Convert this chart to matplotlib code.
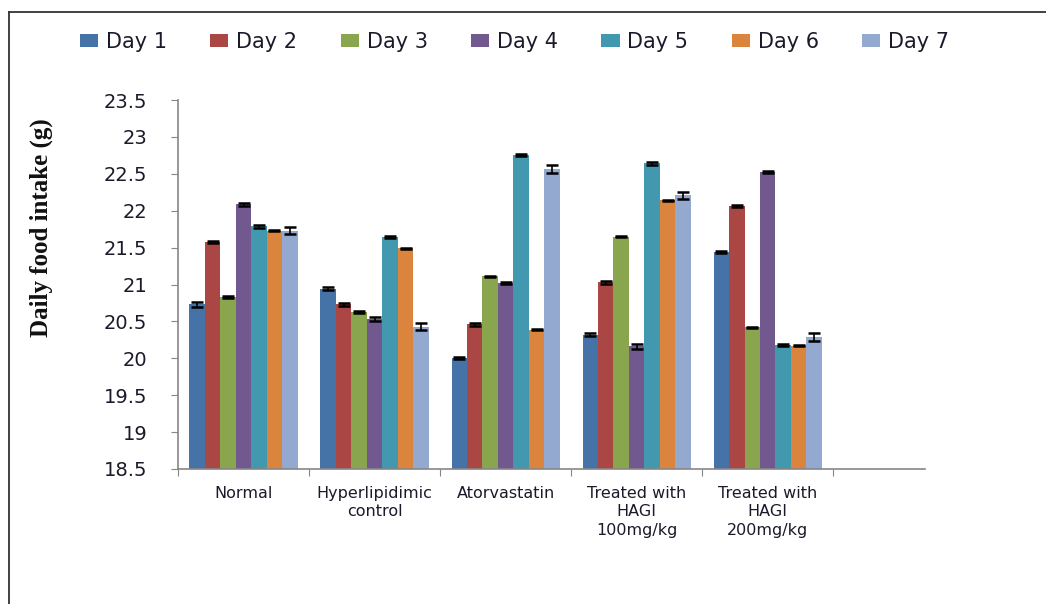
import matplotlib
matplotlib.use("Agg")
import matplotlib.pyplot as plt
import numpy as np
from matplotlib.lines import Line2D
from matplotlib.ticker import FormatStrFormatter, MultipleLocator

groups = ["Normal", "Hyperlipidimic\ncontrol", "Atorvastatin",
          "Treated with\nHAGI\n100mg/kg", "Treated with\nHAGI\n200mg/kg"]
days = ["Day 1", "Day 2", "Day 3", "Day 4", "Day 5", "Day 6", "Day 7"]

# mean daily intake per group, one list per day
day1 = [20.73, 20.94, 20.00, 20.32, 21.44]
day2 = [21.58, 20.73, 20.46, 21.03, 22.06]
day3 = [20.83, 20.63, 21.11, 21.65, 20.42]
day4 = [22.09, 20.53, 21.02, 20.16, 22.52]
day5 = [21.79, 21.64, 22.76, 22.64, 20.18]
day6 = [21.73, 21.49, 20.39, 22.14, 20.17]
day7 = [21.73, 20.43, 22.57, 22.21, 20.29]

# standard errors
err1 = [0.03, 0.02, 0.015, 0.02, 0.015]
err2 = [0.015, 0.025, 0.02, 0.02, 0.015]
err3 = [0.01, 0.01, 0.01, 0.01, 0.005]
err4 = [0.02, 0.025, 0.015, 0.03, 0.015]
err5 = [0.02, 0.015, 0.015, 0.015, 0.015]
err6 = [0.01, 0.01, 0.01, 0.005, 0.01]
err7 = [0.045, 0.045, 0.055, 0.05, 0.05]

values = [day1, day2, day3, day4, day5, day6, day7]
errors = [err1, err2, err3, err4, err5, err6, err7]
colors = ["#4572A7", "#AA4643", "#89A54E", "#71588F", "#4198AF", "#DB843D", "#93A9CF"]

y_min, y_max = 18.5, 23.5

fig = plt.figure(figsize=(10.46, 6.04), dpi=100)
ax = fig.add_axes([178 / 1046, 1 - 469 / 604, (925 - 178) / 1046, (469 - 100) / 604])

width = 0.118
x = np.arange(len(groups))
handles = []
for j, (vals, errs, c) in enumerate(zip(values, errors, colors)):
    vals = np.asarray(vals)
    pos = x + (j - 3) * width
    b = ax.bar(pos, vals - y_min, bottom=y_min, width=width, color=c,
               edgecolor="none", label=days[j], zorder=2)
    ax.errorbar(pos, vals, yerr=errs, fmt="none", ecolor="black",
                elinewidth=1.2, capsize=4.5, capthick=1.8, zorder=3)
    handles.append(b)

ax.set_ylim(y_min, y_max)
ax.set_xlim(-0.5, 5.2)
ax.yaxis.set_major_locator(MultipleLocator(0.5))
ax.yaxis.set_major_formatter(FormatStrFormatter("%g"))

# category boundary tick marks
ax.set_xticks(np.arange(-0.5, 5.0, 1.0))
ax.set_xticklabels([])
ax.set_xticks(x, minor=True)
ax.set_xticklabels(groups, minor=True, fontsize=11.5, color="#1a1a2a",
                   linespacing=1.3, va="top")
ax.tick_params(axis="x", which="minor", length=0, pad=12)
ax.tick_params(axis="x", which="major", length=5, color="#868686", direction="out")
ax.tick_params(axis="y", length=5, color="#868686", direction="out", pad=17,
               labelsize=14, labelcolor="#1a1a2a")

for s in ["top", "right"]:
    ax.spines[s].set_visible(False)
for s in ["left", "bottom"]:
    ax.spines[s].set_color("#868686")
    ax.spines[s].set_linewidth(1.2)

fig.text(41 / 1046, 1 - 228 / 604, "Daily food intake (g)", rotation=90,
         ha="center", va="center", fontsize=18, fontweight="bold",
         family="Liberation Serif", color="#111111")

fig.legend(handles=handles, labels=days, loc="center",
           bbox_to_anchor=(0.492, 1 - 42 / 604), ncol=7, frameon=False,
           fontsize=15, handlelength=0.87, handleheight=0.53,
           handletextpad=0.38, columnspacing=2.08, labelcolor="#1a1a2a")

# outer frame
fig.add_artist(Line2D([9 / 1046, 9 / 1046], [0, 1 - 12 / 604], transform=fig.transFigure,
                      color="#333333", lw=1.3))
fig.add_artist(Line2D([9 / 1046, 1], [1 - 12 / 604, 1 - 12 / 604], transform=fig.transFigure,
                      color="#333333", lw=1.3))

fig.savefig("out.png", dpi=100)
